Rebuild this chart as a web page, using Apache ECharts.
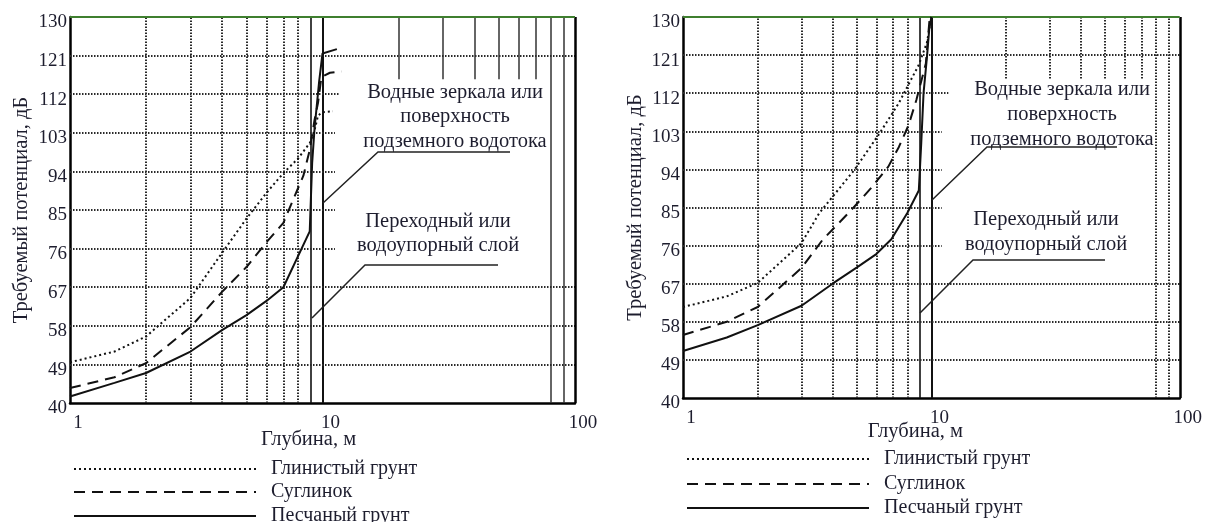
<!DOCTYPE html>
<html><head><meta charset="utf-8">
<script src="https://cdn.jsdelivr.net/npm/echarts@6/dist/echarts.min.js"></script>
<style>html,body{margin:0;padding:0;background:#fff}#c{width:1205px;height:522px}</style>
</head><body><div id="c"></div>
<script>
// ---- data ----
const yTickLabels = [40, 49, 58, 67, 76, 85, 94, 103, 112, 121, 130];
const xTickLabels = [1, 10, 100];
const seriesNames = ['Глинистый грунт', 'Суглинок', 'Песчаный грунт'];

// left panel
const leftClay = [[1,49.5],[1.5,52],[2,55.5],[3,64.5],[4,75],[5,83],[6,89],[7,93.6],[8,97],[8.9,100.6],[9.3,103.6],[9.6,107],[10,107.8],[11,108]];
const leftLoam = [[1,43.5],[1.5,46],[2,49.3],[3,57.7],[4,65.9],[5,71.7],[6,77.5],[7,82],[7.6,87],[8.4,93],[8.9,99],[9.3,106],[9.6,110],[9.9,116],[10.7,117],[11.9,117.3]];
const leftSand = [[1,41.5],[1.5,44.7],[2,47],[3,52],[4,57],[5,60.5],[6,63.8],[7,67],[8.9,80],[9.1,96],[9.3,104],[9.7,115],[10,121.5],[11.4,122.5]];

// right panel
const rightClay = [[1,61.5],[1.5,64],[2,67.2],[3,76.6],[3.54,83.7],[4.9,93.9],[6.2,102.6],[7.4,109.7],[8.9,118.7],[9.6,124],[10,130]];
const rightLoam = [[1,54.9],[1.5,58],[2,61.5],[3,70.7],[3.64,77.3],[4.76,84.4],[5.7,89.5],[6.7,94.6],[7.4,99.3],[8.1,104.5],[8.7,110.4],[9.5,119],[9.85,130]];
const rightSand = [[1,51.1],[1.5,54.3],[2,57.2],[3,61.8],[4,67],[5,70.8],[6,74],[6.9,77.5],[8,83.7],[8.9,89],[9.1,100],[9.3,112],[9.6,120.6],[9.8,127],[10,130]];

// grid line positions (axis values)
const gridMinorX = [2, 3, 4, 5, 6, 7, 8];
const gridSolidX = [9, 10];
const gridUpperX = [20, 30, 40, 50, 60, 70];
const gridFarX = [80, 90];
const gridFullY = [49, 58, 67, 121];
const gridShortY = [76, 85, 94, 103];
const gridShortY2 = [112];

// ---- styles ----
const FONT = "'Liberation Serif', 'DejaVu Serif', serif";
const TXT = '#1d1d2e';
const dotGrid = { color: '#2a2a2a', width: 2, type: [1.5, 1.5] };
const solidGrid = { color: '#111', width: 1.6, type: 'solid' };
const solidGridGrey = { color: '#333', width: 1.5, type: 'solid' };

function gridMarks(p) {
  const d = [];
  gridMinorX.forEach(v => d.push({ xAxis: v, lineStyle: dotGrid }));
  gridSolidX.forEach(v => d.push({ xAxis: v, lineStyle: Object.assign({}, solidGrid, { width: v === 10 ? 2 : 1.6 }) }));
  gridUpperX.forEach(v => d.push([{ coord: [v, 130], lineStyle: p.upperStyle }, { coord: [v, 115.5] }]));
  gridFarX.forEach(v => d.push({ xAxis: v, lineStyle: p.farStyle }));
  gridFullY.forEach(v => d.push({ yAxis: v, lineStyle: dotGrid }));
  gridShortY.forEach(v => d.push([{ coord: [1, v], lineStyle: dotGrid }, { coord: [p.shortEnd, v] }]));
  gridShortY2.forEach(v => d.push([{ coord: [1, v], lineStyle: dotGrid }, { coord: [11.7, v] }]));
  d.push({ xAxis: 100, lineStyle: { color: '#000', width: 2.5, type: 'solid' } });
  d.push({ yAxis: 130, lineStyle: { color: '#3f7f2f', width: 2, type: 'solid' } });
  return d;
}

function curve(name, data, idx, style) {
  return {
    name, type: 'line', data, xAxisIndex: idx, yAxisIndex: idx,
    symbol: 'none', showSymbol: false, z: 5, animation: false,
    lineStyle: style, itemStyle: { color: '#000' }
  };
}
const clayStyle = { color: '#111', width: 2, type: [2, 3] };
const loamStyle = { color: '#111', width: 2, type: [11, 7] };
const sandStyle = { color: '#111', width: 2, type: 'solid' };

const panels = [
  { left: 70, top: 17, width: 505, height: 386, data: [leftClay, leftLoam, leftSand],
    upperStyle: solidGridGrey, farStyle: solidGridGrey, shortEnd: 11.2, nameShift: 28, nameGap: 26, titleGap: 38,
    legendLeft: 73, legendTops: [459, 482, 506] },
  { left: 683, top: 17, width: 499, height: 381, data: [rightClay, rightLoam, rightSand],
    upperStyle: dotGrid, farStyle: dotGrid, shortEnd: 11.0, nameShift: 32, nameGap: 23, titleGap: 37,
    legendLeft: 686, legendTops: [449, 474, 498] }
];

const option = {
  backgroundColor: '#fff',
  animation: false,
  textStyle: { fontFamily: FONT },
  grid: panels.map(p => ({ left: p.left, top: p.top, width: p.width, height: p.height })),
  xAxis: panels.map((p, i) => ({
    type: 'log', logBase: 10, min: 1, max: 100, gridIndex: i,
    axisLine: { show: true, lineStyle: { color: '#000', width: 2.5 } },
    axisTick: { show: false }, splitLine: { show: false },
    axisLabel: { color: TXT, fontFamily: FONT, fontSize: 19, margin: 11, padding: [0, 0, 0, 16],
      formatter: v => (xTickLabels.indexOf(Math.round(v)) >= 0 ? String(Math.round(v)) : '') },
    name: 'Глубина, м', nameLocation: 'middle', nameGap: p.nameGap, nameMoveOverlap: false,
    nameTextStyle: { color: TXT, fontFamily: FONT, fontSize: 20.5, padding: [0, p.nameShift, 0, 0] }
  })),
  yAxis: panels.map((p, i) => ({
    type: 'value', min: yTickLabels[0], max: yTickLabels[yTickLabels.length - 1], interval: 9, gridIndex: i,
    axisLine: { show: true, lineStyle: { color: '#000', width: 2.5 } },
    axisTick: { show: false }, splitLine: { show: false },
    axisLabel: { color: TXT, fontFamily: FONT, fontSize: 19, margin: 3, verticalAlign: 'top', lineHeight: 11 },
    name: 'Требуемый потенциал, дБ', nameLocation: 'middle', nameGap: p.titleGap, nameMoveOverlap: false,
    nameTextStyle: { color: TXT, fontFamily: FONT, fontSize: 20.5 }
  })),
  legend: [],
  series: [],
  graphic: []
};

panels.forEach((p, i) => {
  seriesNames.forEach((nm, k) => {
    option.legend.push({
      left: p.legendLeft, top: p.legendTops[k], orient: 'horizontal', padding: 0,
      itemWidth: 182, itemHeight: 12, selectedMode: false, data: [nm],
      itemStyle: { opacity: 0, borderWidth: 0 },
      textStyle: { color: TXT, fontFamily: FONT, fontSize: 20, lineHeight: 20, padding: [0, 0, 0, 10] }
    });
  });
  option.series.push({
    name: 'grid' + i, type: 'line', data: [], xAxisIndex: i, yAxisIndex: i, z: 1, silent: true,
    markLine: { silent: true, symbol: ['none', 'none'], label: { show: false }, animation: false,
      emphasis: { disabled: true }, data: gridMarks(p) }
  });
  option.series.push(curve(seriesNames[0], p.data[0], i, clayStyle));
  option.series.push(curve(seriesNames[1], p.data[1], i, loamStyle));
  option.series.push(curve(seriesNames[2], p.data[2], i, sandStyle));
});

// annotations
function txt(text, x, y) {
  return { type: 'text', z: 10, style: { text, x, y, textAlign: 'center', textVerticalAlign: 'middle',
    font: '20.5px ' + FONT, fill: TXT } };
}
function pl(points) {
  return { type: 'polyline', z: 10, shape: { points }, style: { stroke: '#222', lineWidth: 1.5, fill: null } };
}
option.graphic = [
  txt('Водные зеркала или', 455, 93), txt('поверхность', 455, 117), txt('подземного водотока', 455, 142),
  pl([[323, 203], [378, 152], [510, 152]]),
  txt('Переходный или', 438, 222), txt('водоупорный слой', 438, 246),
  pl([[312, 318], [365, 265], [498, 265]]),
  txt('Водные зеркала или', 1062, 90), txt('поверхность', 1062, 115), txt('подземного водотока', 1062, 140),
  pl([[932, 200], [987, 147], [1117, 147]]),
  txt('Переходный или', 1046, 220), txt('водоупорный слой', 1046, 245),
  pl([[920, 313], [973, 260], [1105, 260]])
];

const chart = echarts.init(document.getElementById('c'), null, { renderer: 'canvas' });
chart.setOption(option);
</script>
</body></html>
